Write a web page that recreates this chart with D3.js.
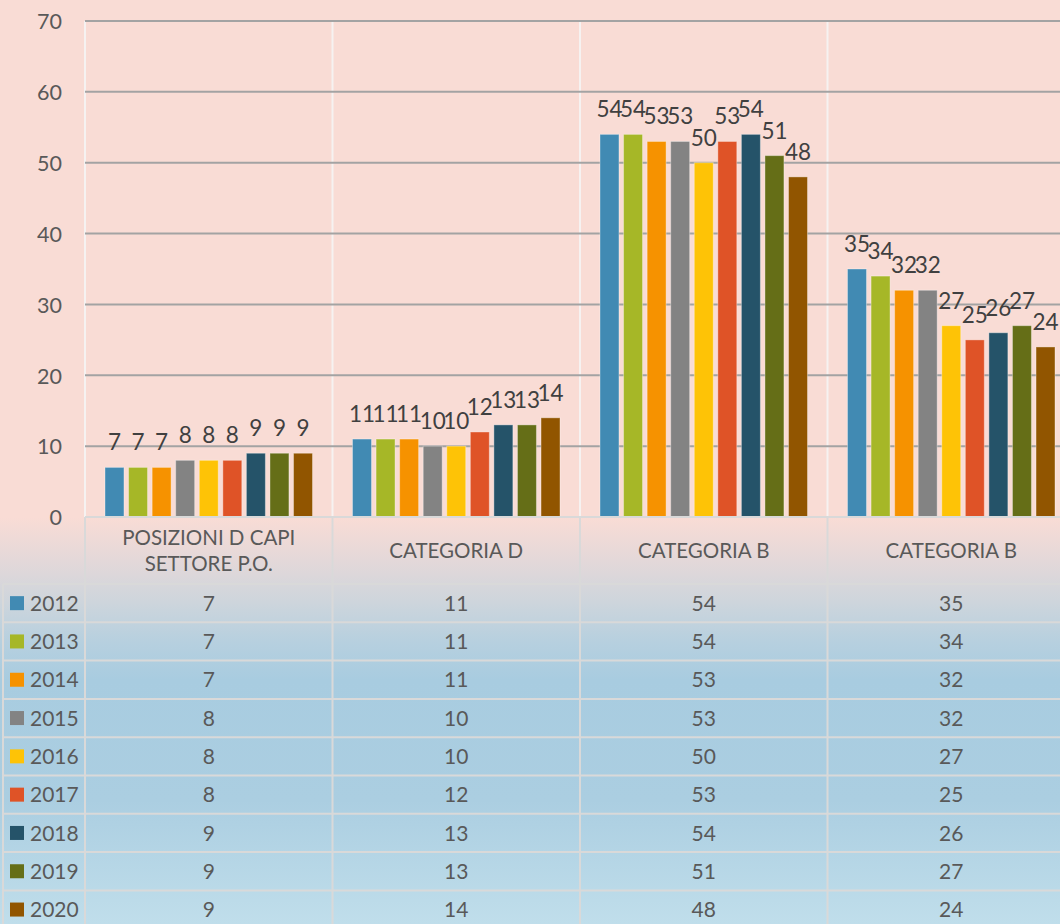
<!DOCTYPE html>
<html><head><meta charset="utf-8">
<script src="https://cdn.jsdelivr.net/npm/d3@7"></script>
<style>html,body{margin:0;padding:0;background:#F9DCD5;}svg{display:block;}</style>
</head><body>
<svg id="c" width="1060" height="924"></svg>
<script>
const categories = ["POSIZIONI D CAPI\nSETTORE P.O.", "CATEGORIA D", "CATEGORIA B", "CATEGORIA B"];
const years = ["2012","2013","2014","2015","2016","2017","2018","2019","2020"];
const s2012 = [7, 11, 54, 35];
const s2013 = [7, 11, 54, 34];
const s2014 = [7, 11, 53, 32];
const s2015 = [8, 10, 53, 32];
const s2016 = [8, 10, 50, 27];
const s2017 = [8, 12, 53, 25];
const s2018 = [9, 13, 54, 26];
const s2019 = [9, 13, 51, 27];
const s2020 = [9, 14, 48, 24];
const seriesValues = [s2012, s2013, s2014, s2015, s2016, s2017, s2018, s2019, s2020];
const colors = ["#418AB3","#A6B727","#F69200","#838383","#FEC306","#DF5327","#255369","#656E17","#915500"];
const yTicks = [0,10,20,30,40,50,60,70];

const svg = d3.select("#c");
const W = 1060, H = 924;
const font = "Lato, 'Open Sans', sans-serif";

// background gradient
const defs = svg.append("defs");
const g = defs.append("linearGradient").attr("id","bg")
  .attr("gradientUnits","userSpaceOnUse").attr("x1",0).attr("y1",0).attr("x2",0).attr("y2",H);
[[0,"#F9DCD5"],[517,"#F9DCD5"],[560,"#E4D8D9"],[603,"#CDD5DC"],[641,"#B7D0DF"],[680,"#A8CCE0"],[800,"#ABCEE1"],[924,"#C0DEEB"]]
  .forEach(([y,c]) => g.append("stop").attr("offset", y/H).attr("stop-color", c));
svg.append("rect").attr("width",W).attr("height",H).attr("fill","url(#bg)");

const catIdx = categories.map((d,i)=>i);
const x0 = d3.scaleBand().domain(catIdx).range([85, 1075]).padding(0);
const x1 = d3.scaleBand().domain(years).range([20, x0.bandwidth()-20]).paddingInner(0.195).paddingOuter(0);
const y = d3.scaleLinear().domain([0,70]).range([517, 21]);

// vertical white grid lines (category boundaries)
const bounds = catIdx.map(i=>x0(i)).concat([x0(3)+x0.bandwidth()]);
svg.append("g").selectAll("line").data(bounds).join("line")
  .attr("x1",d=>d).attr("x2",d=>d).attr("y1",y(70)).attr("y2",y(0))
  .attr("stroke","#F6F2F1").attr("stroke-width",2);

// horizontal grid
svg.append("g").selectAll("line").data(yTicks.filter(t=>t>0)).join("line")
  .attr("x1",85).attr("x2",W).attr("y1",d=>y(d)).attr("y2",d=>y(d))
  .attr("stroke","#A3A3A3").attr("stroke-width",2);

// y axis labels
const yAxis = d3.axisLeft(y).tickValues(yTicks).tickSize(0).tickPadding(0);
const ya = svg.append("g").attr("transform","translate(62,0)").call(yAxis);
ya.select(".domain").remove();
ya.selectAll("text").attr("font-family",font).attr("font-size",21.5).attr("fill","#595959").attr("dy","0.36em");

// bars
const groups = svg.append("g").selectAll("g").data(catIdx).join("g")
  .attr("transform",i=>`translate(${x0(i)},0)`);
groups.selectAll("rect").data(i=>years.map((yr,k)=>({yr,k,v:seriesValues[k][i]}))).join("rect")
  .attr("x",d=>x1(d.yr)).attr("width",x1.bandwidth())
  .attr("y",d=>y(d.v)).attr("height",d=>y(0)-y(d.v))
  .attr("fill",d=>colors[d.k]).attr("stroke","rgba(255,255,255,0.35)").attr("stroke-width",1);
groups.selectAll("text").data(i=>years.map((yr,k)=>({yr,k,v:seriesValues[k][i]}))).join("text")
  .attr("x",d=>x1(d.yr)+x1.bandwidth()/2).attr("y",d=>y(d.v)-17)
  .attr("text-anchor","middle").attr("font-family",font).attr("font-size",22.5).attr("fill","#404040")
  .text(d=>d.v);

// data table
const headTop = 517, rowTop = 584, rowH = 38.3;
const border = "#D9D9D9";
const tbl = svg.append("g");
tbl.append("line").attr("x1",85).attr("x2",W).attr("y1",headTop).attr("y2",headTop).attr("stroke",border).attr("stroke-width",2);
const rowLines = d3.range(years.length+1).map(i=>rowTop+i*rowH);
tbl.selectAll("line.h").data(rowLines).join("line").attr("class","h")
  .attr("x1",3).attr("x2",W).attr("y1",d=>d).attr("y2",d=>d).attr("stroke",border).attr("stroke-width",2);
tbl.selectAll("line.v").data(bounds).join("line").attr("class","v")
  .attr("x1",d=>d).attr("x2",d=>d).attr("y1",headTop).attr("y2",H).attr("stroke",border).attr("stroke-width",2);
tbl.append("line").attr("x1",3).attr("x2",3).attr("y1",rowTop).attr("y2",H).attr("stroke",border).attr("stroke-width",2);

// header labels
catIdx.forEach(i=>{
  const lines = categories[i].split("\n");
  const cx = x0(i)+x0.bandwidth()/2;
  const cy = (headTop+rowTop)/2;
  lines.forEach((ln,j)=>{
    tbl.append("text").attr("x",cx).attr("y",cy + (j-(lines.length-1)/2)*26)
      .attr("dy","0.36em").attr("text-anchor","middle").attr("font-family",font).attr("font-size",20.5)
      .attr("fill","#595959").text(ln);
  });
});
// rows
years.forEach((yr,k)=>{
  const cy = rowTop + k*rowH + rowH/2;
  tbl.append("rect").attr("x",10).attr("y",cy-7).attr("width",14).attr("height",14).attr("fill",colors[k]);
  tbl.append("text").attr("x",30).attr("y",cy).attr("dy","0.36em").attr("font-family",font).attr("font-size",21)
    .attr("fill","#595959").text(yr);
  catIdx.forEach(i=>{
    tbl.append("text").attr("x",x0(i)+x0.bandwidth()/2).attr("y",cy).attr("dy","0.36em")
      .attr("text-anchor","middle").attr("font-family",font).attr("font-size",21).attr("fill","#595959")
      .text(seriesValues[k][i]);
  });
});
</script>
</body></html>
